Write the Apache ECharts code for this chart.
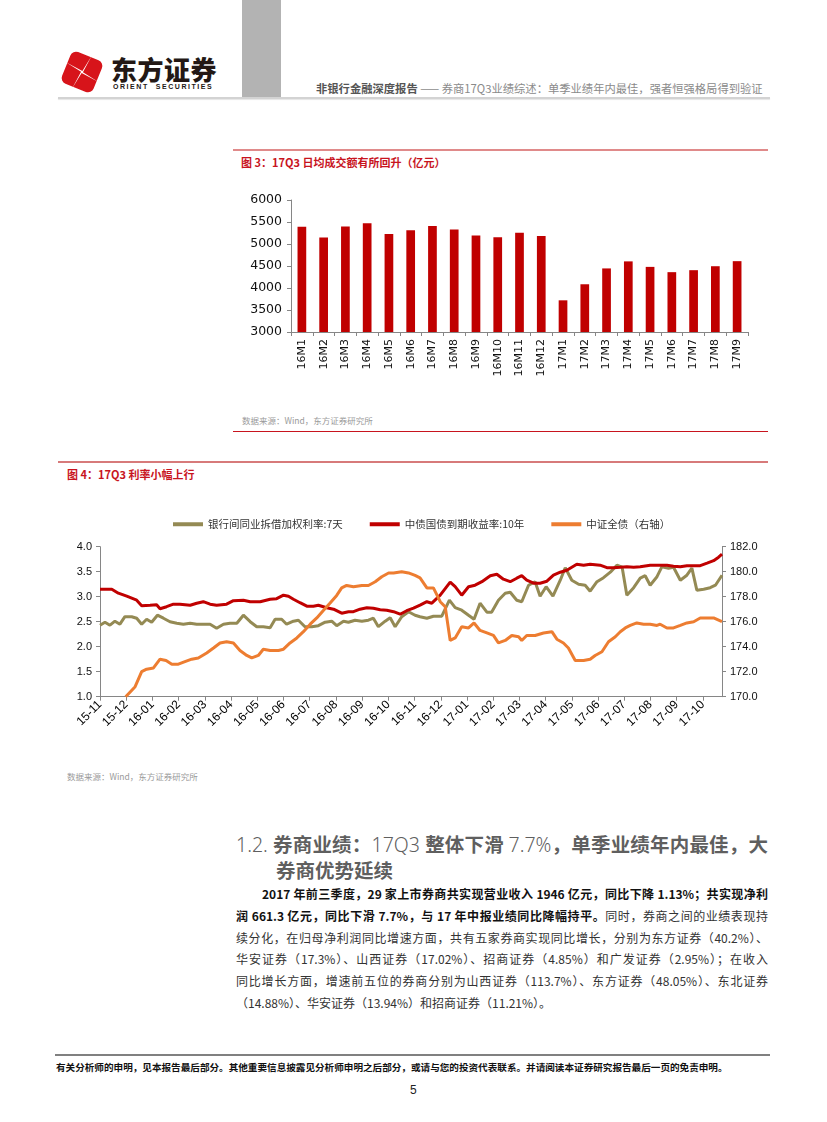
<!DOCTYPE html>
<html><head><meta charset="utf-8">
<script src="https://cdn.jsdelivr.net/npm/echarts@6/dist/echarts.min.js"></script>
<style>
body{margin:0;width:827px;height:1122px;background:#fff;position:relative;overflow:hidden;font-family:"Noto Sans CJK SC","Noto Sans",sans-serif;}
.abs{position:absolute;white-space:nowrap;}
.para{position:absolute;left:236px;width:532px;font-size:12px;line-height:16px;color:#333;text-align:justify;text-align-last:justify;white-space:normal;}
.b{font-weight:bold;color:#111;}
.h{font-weight:bold;}
.l{font-family:"Noto Sans","Liberation Sans",sans-serif;font-weight:300;}
</style></head><body>
<script>
// ---------- Chart 1 data: 日均成交额（亿元） ----------
const turnoverMonths = ['16M1','16M2','16M3','16M4','16M5','16M6','16M7','16M8','16M9','16M10','16M11','16M12','17M1','17M2','17M3','17M4','17M5','17M6','17M7','17M8','17M9'];
const turnoverValues = [5390,5150,5400,5470,5225,5310,5410,5330,5195,5155,5255,5180,3720,4085,4445,4605,4480,4360,4405,4495,4610];
const turnoverTicks = [3000,3500,4000,4500,5000,5500,6000];

// ---------- Chart 2 data ----------
const rateMonthLabels = ['15-11','15-12','16-01','16-02','16-03','16-04','16-05','16-06','16-07','16-08','16-09','16-10','16-11','16-12','17-01','17-02','17-03','17-04','17-05','17-06','17-07','17-08','17-09','17-10'];
// time in months since 2015-11-01
const interbankT = [0.00,0.19,0.38,0.57,0.76,0.95,1.21,1.40,1.59,1.78,1.97,2.19,2.42,2.67,2.93,3.18,3.44,3.69,3.94,4.20,4.45,4.71,4.96,5.22,5.47,5.73,5.98,6.23,6.49,6.68,6.93,7.12,7.38,7.57,7.82,8.08,8.33,8.59,8.84,9.03,9.29,9.48,9.73,9.99,10.24,10.43,10.62,10.88,11.07,11.26,11.51,11.77,12.02,12.21,12.47,12.72,13.04,13.33,13.55,13.80,14.06,14.27,14.50,14.76,14.94,15.20,15.46,15.65,15.90,16.09,16.35,16.60,16.79,17.02,17.28,17.56,17.75,18.00,18.26,18.51,18.70,18.96,19.21,19.47,19.72,19.92,20.10,20.36,20.61,20.80,20.99,21.25,21.44,21.69,21.88,22.14,22.39,22.58,22.77,23.03,23.28,23.48,23.73];
const interbankRate = [2.43,2.49,2.43,2.51,2.45,2.60,2.60,2.57,2.45,2.55,2.49,2.63,2.57,2.50,2.47,2.45,2.47,2.45,2.45,2.45,2.37,2.45,2.47,2.47,2.63,2.50,2.40,2.40,2.38,2.55,2.55,2.45,2.51,2.53,2.40,2.40,2.42,2.49,2.51,2.42,2.51,2.49,2.53,2.51,2.53,2.57,2.40,2.51,2.58,2.40,2.60,2.70,2.63,2.60,2.57,2.61,2.61,2.93,2.78,2.73,2.63,2.55,2.87,2.69,2.69,2.93,3.07,3.09,2.93,2.90,3.23,3.30,3.01,3.20,3.01,3.33,3.58,3.33,3.25,3.23,3.11,3.30,3.38,3.49,3.63,3.59,3.03,3.18,3.37,3.42,3.23,3.40,3.60,3.57,3.59,3.33,3.43,3.57,3.13,3.15,3.18,3.23,3.43];
const bond10yT = [0.00,0.45,0.70,1.02,1.40,1.59,1.91,2.16,2.29,2.54,2.80,3.05,3.44,3.69,3.94,4.20,4.45,4.83,5.09,5.47,5.73,6.11,6.49,6.74,7.00,7.19,7.38,7.63,7.89,8.14,8.33,8.65,8.91,9.22,9.48,9.67,9.92,10.18,10.43,10.69,10.94,11.20,11.45,11.70,11.96,12.21,12.47,12.66,12.98,13.36,13.55,13.80,14.06,14.31,14.57,14.89,15.14,15.39,15.65,15.90,16.09,16.28,16.54,16.79,17.05,17.30,17.56,17.81,18.19,18.45,18.70,19.08,19.34,19.59,19.85,20.10,20.36,20.61,20.99,21.25,21.63,21.88,22.14,22.39,22.65,22.90,23.16,23.41,23.60,23.73];
const bond10yYield = [3.15,3.15,3.07,3.01,2.93,2.82,2.83,2.84,2.76,2.80,2.85,2.85,2.83,2.87,2.90,2.85,2.83,2.85,2.92,2.93,2.90,2.90,2.95,2.96,3.03,3.01,2.95,2.88,2.81,2.81,2.83,2.78,2.75,2.67,2.70,2.70,2.75,2.78,2.77,2.74,2.73,2.70,2.65,2.72,2.77,2.83,2.90,2.87,3.03,3.29,3.20,3.03,3.20,3.23,3.30,3.42,3.45,3.35,3.30,3.37,3.42,3.33,3.27,3.27,3.31,3.43,3.49,3.53,3.65,3.63,3.65,3.63,3.58,3.58,3.59,3.60,3.59,3.60,3.63,3.63,3.63,3.61,3.60,3.62,3.62,3.62,3.67,3.72,3.79,3.85];
const bondIndexT = [0.98,1.34,1.59,1.78,2.04,2.29,2.52,2.74,2.99,3.24,3.50,3.75,4.07,4.33,4.58,4.83,5.09,5.34,5.60,5.79,6.04,6.23,6.49,6.81,7.00,7.25,7.51,7.76,8.02,8.27,8.52,8.78,9.03,9.22,9.41,9.67,9.99,10.24,10.50,10.75,11.01,11.20,11.51,11.77,12.02,12.21,12.47,12.72,12.98,13.17,13.36,13.55,13.80,14.06,14.27,14.50,14.76,15.01,15.20,15.46,15.71,15.97,16.09,16.28,16.60,16.92,17.24,17.43,17.68,17.87,18.13,18.45,18.70,18.89,19.15,19.40,19.66,19.85,20.04,20.23,20.48,20.74,20.99,21.25,21.37,21.63,21.88,22.14,22.39,22.65,22.90,23.16,23.41,23.73];
const bondIndexValue = [170.0,170.8,172.0,172.2,172.3,173.0,172.9,172.6,172.6,172.8,173.0,173.1,173.5,173.9,174.3,174.4,174.3,173.7,173.3,173.1,173.3,173.8,173.7,173.7,173.8,174.3,174.7,175.2,175.8,176.3,176.9,177.5,178.1,178.7,178.9,178.8,178.9,178.9,179.2,179.6,179.9,179.9,180.0,179.9,179.7,179.5,178.7,178.7,177.6,177.2,174.5,174.7,175.6,175.5,175.9,175.3,175.1,174.9,174.3,174.5,174.9,174.8,174.5,174.9,174.9,175.1,175.2,174.6,174.3,173.9,172.9,172.9,173.0,173.3,173.6,174.4,174.8,175.2,175.5,175.7,175.9,175.8,175.8,175.7,175.8,175.5,175.5,175.7,175.9,176.0,176.3,176.3,176.3,176.0];
const leftTicks = [1.0,1.5,2.0,2.5,3.0,3.5,4.0];
const rightTicks = [170,172,174,176,178,180,182];
const seriesNames = ['银行间同业拆借加权利率:7天','中债国债到期收益率:10年','中证全债（右轴）'];
</script>

<!-- header -->
<svg class="abs" style="left:55px;top:45px" width="54" height="54" viewBox="0 0 54 54">
  <g transform="translate(27,27) rotate(22)">
    <rect x="-17" y="-17" width="34" height="34" rx="6" fill="#d7141a"/>
    <path d="M-19,-3 L0,-1 L3,-19 L1,0 L19,3 L0,1 L-3,19 L-1,0 Z" fill="#fff"/>
  </g>
</svg>
<div class="abs" style="left:111px;top:50px;font-size:26px;font-weight:900;color:#231815;letter-spacing:0.5px">东方证券</div>
<div class="abs" style="left:113px;top:83px;font-size:7px;font-weight:bold;color:#231815;letter-spacing:1.55px;font-family:'Liberation Sans',sans-serif">ORIENT&nbsp; SECURITIES</div>
<div class="abs" style="left:242px;top:0;width:39px;height:98px;background:#b3b3b3"></div>
<div class="abs" style="left:58px;top:97px;width:712px;height:2px;background:#d3d3d3;box-shadow:0 1px 1px #e6e6e6"></div>
<div class="abs" style="left:316px;top:80px;font-size:11.3px;color:#8a8a8a"><span style="color:#555;font-weight:bold">非银行金融深度报告</span> —— 券商17Q3业绩综述：单季业绩年内最佳，强者恒强格局得到验证</div>

<!-- chart 3 -->
<div class="abs" style="left:233px;top:149px;width:535px;height:1.5px;background:#e08a8a"></div>
<div class="abs" style="left:241px;top:154px;font-size:11px;font-weight:bold;color:#c8141e">图 3：17Q3 日均成交额有所回升（亿元）</div>
<div id="c1" class="abs" style="left:230px;top:180px;width:540px;height:220px"></div>
<div class="abs" style="left:242px;top:414px;font-size:8.5px;color:#9a9a9a">数据来源：Wind，东方证券研究所</div>
<div class="abs" style="left:233px;top:431px;width:535px;height:1px;background:#c8141e"></div>

<!-- chart 4 -->
<div class="abs" style="left:58px;top:461px;width:710px;height:2px;background:#d77a7a"></div>
<div class="abs" style="left:67px;top:466px;font-size:11px;font-weight:bold;color:#c8141e">图 4：17Q3 利率小幅上行</div>
<div id="c2" class="abs" style="left:55px;top:500px;width:725px;height:270px"></div>
<div class="abs" style="left:67px;top:770px;font-size:8.5px;color:#9a9a9a">数据来源：Wind，东方证券研究所</div>

<!-- section -->
<div class="abs" style="left:236px;top:829px;width:532px;font-size:19.5px;color:#5f5f5f;text-align:justify;text-align-last:justify;white-space:normal"><span class="l">1.2. </span><span class="h">券商业绩：</span><span class="l">17Q3 </span><span class="h">整体下滑 </span><span class="l">7.7%</span><span class="h">，单季业绩年内最佳，大</span></div>
<div class="abs" style="left:276px;top:855px;font-size:19.5px;color:#5f5f5f"><span class="h">券商优势延续</span></div>

<div class="para" style="top:886px;left:262px;width:506px"><span class="b">2017 年前三季度，29 家上市券商共实现营业收入 1946 亿元，同比下降 1.13%；共实现净利</span></div>
<div class="para" style="top:908px"><span class="b">润 661.3 亿元，同比下滑 7.7%，与 17 年中报业绩同比降幅持平。</span>同时，券商之间的业绩表现持</div>
<div class="para" style="top:930px">续分化，在归母净利润同比增速方面，共有五家券商实现同比增长，分别为东方证券（40.2%）、</div>
<div class="para" style="top:951px">华安证券（17.3%）、山西证券（17.02%）、招商证券（4.85%）和广发证券（2.95%）；在收入</div>
<div class="para" style="top:973px">同比增长方面，增速前五位的券商分别为山西证券（113.7%）、东方证券（48.05%）、东北证券</div>
<div class="para" style="top:995px;text-align-last:left">（14.88%）、华安证券（13.94%）和招商证券（11.21%）。</div>

<!-- footer -->
<div class="abs" style="left:55px;top:1054px;width:715px;height:2px;background:#808080"></div>
<div class="abs" style="left:56px;top:1060px;font-size:9.6px;font-weight:bold;color:#111">有关分析师的申明，见本报告最后部分。其他重要信息披露见分析师申明之后部分，或请与您的投资代表联系。并请阅读本证券研究报告最后一页的免责申明。</div>
<div class="abs" style="left:410px;top:1083px;font-size:12px;color:#222;font-family:'Liberation Sans Narrow','Liberation Sans',sans-serif">5</div>

<script>
const axisGray = '#868686';
const c1 = echarts.init(document.getElementById('c1'), null, {renderer:'canvas'});
c1.setOption({
  animation:false,
  grid:{left:61,top:20,right:22,bottom:68},
  xAxis:{type:'category',data:turnoverMonths,
    axisLine:{lineStyle:{color:axisGray}},
    axisTick:{show:true,length:4,lineStyle:{color:axisGray}},
    axisLabel:{rotate:90,fontFamily:'DejaVu Sans',fontSize:11,color:'#111',margin:7}},
  yAxis:{type:'value',min:turnoverTicks[0],max:turnoverTicks[turnoverTicks.length-1],interval:turnoverTicks[1]-turnoverTicks[0],
    axisLine:{show:true,lineStyle:{color:axisGray}},
    axisTick:{show:true,length:4,lineStyle:{color:axisGray}},
    splitLine:{show:false},
    axisLabel:{fontFamily:'DejaVu Sans',fontSize:12.5,color:'#111',margin:9,formatter:v=>String(v)}},
  series:[{type:'bar',data:turnoverValues,barWidth:'40%',itemStyle:{color:'#c00000'}}]
});

const pairs = (t,v)=>t.map((x,i)=>[x,v[i]]);
const c2 = echarts.init(document.getElementById('c2'), null, {renderer:'canvas'});
const lblFont = {fontFamily:"'Liberation Sans Narrow','Liberation Sans',sans-serif",fontSize:11,color:'#111'};
c2.setOption({
  animation:false,
  color:['#948a54','#c00000','#ed7d31'],
  legend:{left:113,top:14,itemWidth:30,itemHeight:4,itemGap:27,icon:'rect',
    textStyle:{fontSize:10.5,color:'#333',fontFamily:'Noto Sans CJK SC'},
    data:seriesNames},
  grid:{left:45,top:46.7,right:58,bottom:73.3},
  xAxis:{type:'value',min:0,max:23.73,interval:1,
    axisLine:{lineStyle:{color:axisGray}},
    axisTick:{show:true,length:4,lineStyle:{color:axisGray}},
    splitLine:{show:false},
    axisLabel:Object.assign({},lblFont,{rotate:45,margin:6,showMaxLabel:false,fontSize:12,color:'#000',
      formatter:v=>{const r=Math.round(v);return Math.abs(v-r)<1e-6&&rateMonthLabels[r]?rateMonthLabels[r]:'';}})},
  yAxis:[
    {type:'value',min:leftTicks[0],max:leftTicks[leftTicks.length-1],interval:leftTicks[1]-leftTicks[0],
     axisLine:{show:true,lineStyle:{color:axisGray}},axisTick:{show:true,length:4,lineStyle:{color:axisGray}},
     splitLine:{show:false},axisLabel:Object.assign({margin:8,formatter:v=>v.toFixed(1)},lblFont)},
    {type:'value',position:'right',min:rightTicks[0],max:rightTicks[rightTicks.length-1],interval:rightTicks[1]-rightTicks[0],
     axisLine:{show:true,lineStyle:{color:axisGray}},axisTick:{show:true,length:4,lineStyle:{color:axisGray}},
     splitLine:{show:false},axisLabel:Object.assign({margin:8,formatter:v=>v.toFixed(1)},lblFont)}
  ],
  series:[
    {name:seriesNames[0],type:'line',data:pairs(interbankT,interbankRate),showSymbol:false,lineStyle:{width:3},yAxisIndex:0},
    {name:seriesNames[1],type:'line',data:pairs(bond10yT,bond10yYield),showSymbol:false,lineStyle:{width:3},yAxisIndex:0},
    {name:seriesNames[2],type:'line',data:pairs(bondIndexT,bondIndexValue),showSymbol:false,lineStyle:{width:3},yAxisIndex:1}
  ]
});
</script>
</body></html>
